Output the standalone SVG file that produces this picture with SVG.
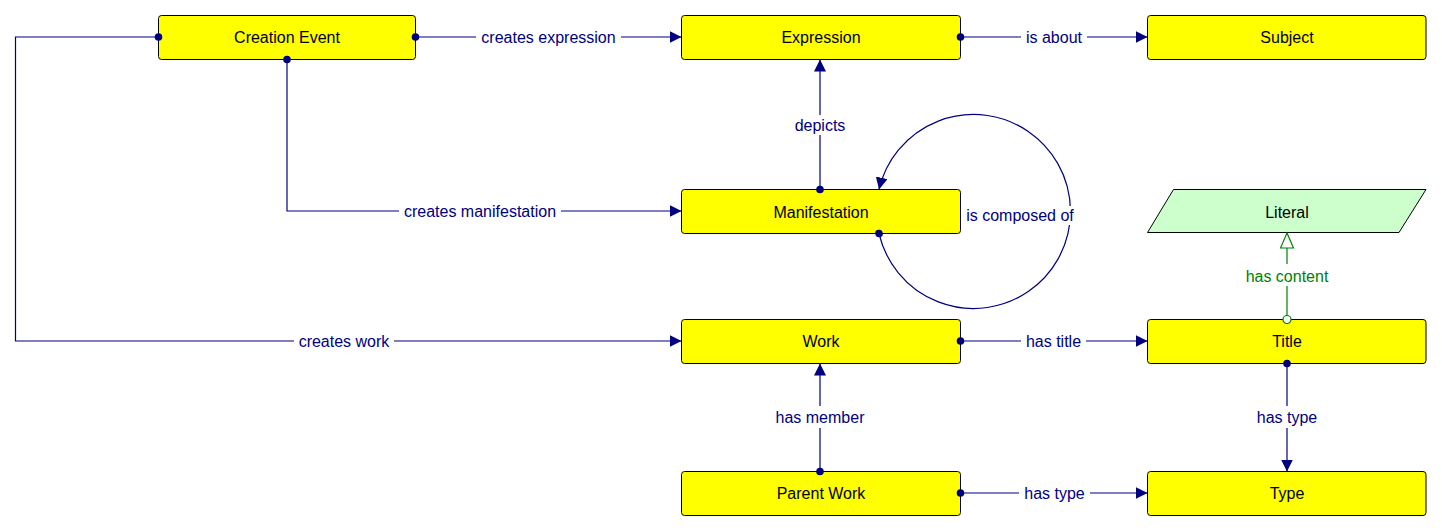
<svg xmlns="http://www.w3.org/2000/svg" width="1442" height="530" viewBox="0 0 1442 530">
<style>
.node rect{fill:#ffff00;stroke:#000;stroke-width:1}
.lit polygon{fill:#ccffcc;stroke:#000;stroke-width:1}
.nt{font-family:"Liberation Sans",Arial,sans-serif;font-size:16px;fill:#000;text-anchor:middle}
.c{fill:none;stroke:#000080;stroke-width:1.2}
.cg{fill:none;stroke:#008000;stroke-width:1.2}
.lb{font-family:"Liberation Sans",Arial,sans-serif;font-size:16px;fill:#000080;text-anchor:middle}
.lbg{font-family:"Liberation Sans",Arial,sans-serif;font-size:16px;fill:#008000;text-anchor:middle}
.bg{fill:#fff}
</style>
<defs>
<marker id="arr" markerUnits="userSpaceOnUse" markerWidth="13" markerHeight="13" refX="12" refY="6" orient="auto"><path d="M0,0 L12,6 L0,12 z" fill="#000080"/></marker>
<marker id="dot" markerUnits="userSpaceOnUse" markerWidth="10" markerHeight="10" refX="5" refY="5" orient="auto"><circle cx="5" cy="5" r="3.8" fill="#000080"/></marker>
<marker id="harr" markerUnits="userSpaceOnUse" markerWidth="18" markerHeight="16" refX="16" refY="7.5" orient="auto"><path d="M1,1 L16,7.5 L1,14 z" fill="#fff" stroke="#008000" stroke-width="1.2"/></marker>
<marker id="ocirc" markerUnits="userSpaceOnUse" markerWidth="12" markerHeight="12" refX="6" refY="6" orient="auto"><circle cx="6" cy="6" r="4" fill="#fff" stroke="#008000" stroke-width="1.2"/></marker>
</defs>
<g id="creation-event" class="node"><rect x="158.5" y="15.5" width="257" height="44" rx="3"/><text class="nt" x="287" y="43">Creation Event</text></g>
<g id="expression" class="node"><rect x="681.5" y="15.5" width="279" height="44" rx="3"/><text class="nt" x="821" y="43">Expression</text></g>
<g id="subject" class="node"><rect x="1147.5" y="15.5" width="278.5" height="44" rx="3"/><text class="nt" x="1287" y="43">Subject</text></g>
<g id="manifestation" class="node"><rect x="681.5" y="189.5" width="279" height="44" rx="3"/><text class="nt" x="821" y="218">Manifestation</text></g>
<g id="literal" class="lit"><polygon points="1173.5,189.5 1426,189.5 1399,232.5 1147.5,232.5"/><text class="nt" x="1287" y="218">Literal</text></g>
<g id="work" class="node"><rect x="681.5" y="319.5" width="279" height="44" rx="3"/><text class="nt" x="821" y="347">Work</text></g>
<g id="title" class="node"><rect x="1147.5" y="319.5" width="278.5" height="44" rx="3"/><text class="nt" x="1287" y="347">Title</text></g>
<g id="parent-work" class="node"><rect x="681.5" y="471.5" width="279" height="44" rx="3"/><text class="nt" x="821" y="499">Parent Work</text></g>
<g id="type" class="node"><rect x="1147.5" y="471.5" width="278.5" height="44" rx="3"/><text class="nt" x="1287" y="499">Type</text></g>
<g id="connectors">
<path class="c" d="M415.5,37 L681.5,37" marker-start="url(#dot)" marker-end="url(#arr)"/>
<path class="c" d="M960.5,37 L1147.5,37" marker-start="url(#dot)" marker-end="url(#arr)"/>
<path class="c" d="M287,59.5 L287,211 L681.5,211" marker-start="url(#dot)" marker-end="url(#arr)"/>
<path class="c" d="M158.5,37 L15.5,37 L15.5,341 L681.5,341" marker-start="url(#dot)" marker-end="url(#arr)"/>
<path class="c" d="M820,189.5 L820,59.5" marker-start="url(#dot)" marker-end="url(#arr)"/>
<path class="c" d="M879,233.5 A97,97 0 1 0 879,189.5" marker-start="url(#dot)" marker-end="url(#arr)"/>
<path class="c" d="M960.5,341 L1147.5,341" marker-start="url(#dot)" marker-end="url(#arr)"/>
<path class="c" d="M820,471.5 L820,363.5" marker-start="url(#dot)" marker-end="url(#arr)"/>
<path class="c" d="M960.5,493 L1147.5,493" marker-start="url(#dot)" marker-end="url(#arr)"/>
<path class="c" d="M1287,363.5 L1287,471.5" marker-start="url(#dot)" marker-end="url(#arr)"/>
<path class="cg" d="M1287,319.5 L1287,233" marker-start="url(#ocirc)" marker-end="url(#harr)"/>
<rect class="bg" x="476" y="28" width="145" height="19"/>
<text class="lb" x="548.5" y="43">creates expression</text>
<rect class="bg" x="1021" y="28" width="66" height="19"/>
<text class="lb" x="1054" y="43">is about</text>
<rect class="bg" x="399" y="202" width="162" height="19"/>
<text class="lb" x="480" y="217">creates manifestation</text>
<rect class="bg" x="294" y="332" width="100" height="19"/>
<text class="lb" x="344" y="347">creates work</text>
<rect class="bg" x="791" y="115" width="58" height="20"/>
<text class="lb" x="820" y="131">depicts</text>
<rect class="bg" x="961" y="206" width="118" height="19"/>
<text class="lb" x="1020" y="221">is composed of</text>
<rect class="bg" x="1021" y="332" width="65" height="19"/>
<text class="lb" x="1053.5" y="347">has title</text>
<rect class="bg" x="772" y="406" width="96" height="22"/>
<text class="lb" x="820" y="423">has member</text>
<rect class="bg" x="1019" y="484" width="71" height="19"/>
<text class="lb" x="1054.5" y="499">has type</text>
<rect class="bg" x="1252" y="406" width="70" height="22"/>
<text class="lb" x="1287" y="423">has type</text>
<rect class="bg" x="1243" y="264" width="88" height="22"/>
<text class="lbg" x="1287" y="282">has content</text>
</g>
</svg>
